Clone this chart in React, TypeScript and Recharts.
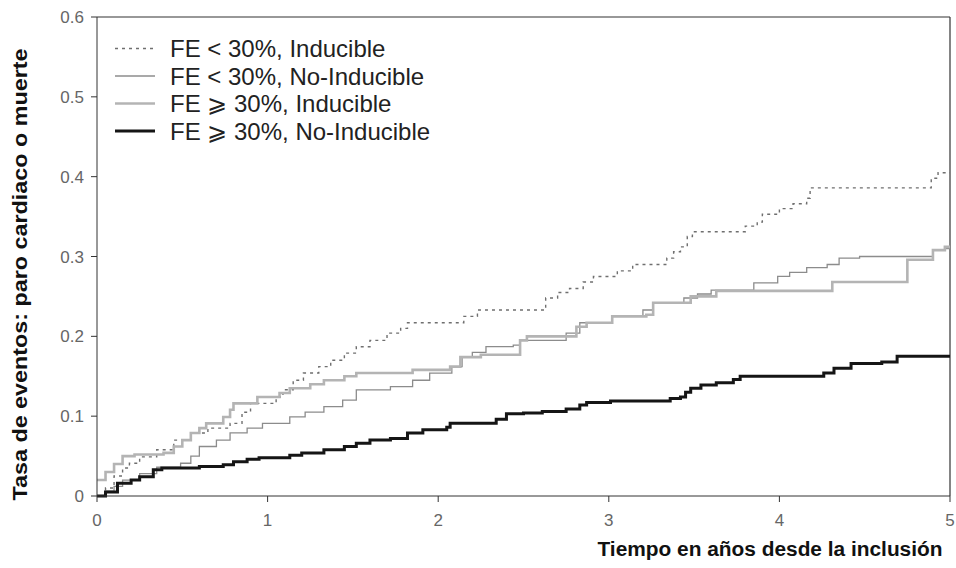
import React from 'react';
import {
    LineChart,
    Line,
    XAxis,
    YAxis,
    ReferenceLine,
    Label,
} from 'recharts';

// tiempo (años) y tasa acumulada
const lowInducibleT = [0, 0.05, 0.1, 0.15, 0.19, 0.25, 0.35, 0.45, 0.55, 0.65, 0.78, 0.85, 0.9, 1.05, 1.09, 1.15, 1.21, 1.3, 1.37, 1.45, 1.52, 1.6, 1.7, 1.78, 1.82, 2.15, 2.23, 2.63, 2.7, 2.77, 2.85, 2.91, 3.05, 3.14, 3.34, 3.38, 3.42, 3.46, 3.49, 3.8, 3.87, 3.9, 4.0, 4.08, 4.16, 4.18, 4.89, 4.93, 5];
const lowInducibleY = [0, 0.01, 0.025, 0.035, 0.041, 0.049, 0.058, 0.07, 0.079, 0.085, 0.091, 0.105, 0.116, 0.124, 0.133, 0.145, 0.154, 0.162, 0.17, 0.179, 0.187, 0.195, 0.204, 0.21, 0.217, 0.225, 0.233, 0.248, 0.255, 0.26, 0.268, 0.275, 0.282, 0.29, 0.298, 0.306, 0.312, 0.325, 0.331, 0.338, 0.343, 0.353, 0.36, 0.366, 0.373, 0.386, 0.398, 0.405, 0.405];

const lowNoInducibleT = [0, 0.05, 0.1, 0.15, 0.25, 0.35, 0.49, 0.55, 0.6, 0.7, 0.78, 0.88, 0.97, 1.13, 1.22, 1.33, 1.44, 1.52, 1.72, 1.85, 1.95, 2.08, 2.14, 2.2, 2.28, 2.44, 2.48, 2.75, 2.83, 3.02, 3.2, 3.26, 3.44, 3.52, 3.6, 3.85, 3.99, 4.06, 4.16, 4.28, 4.35, 4.47, 4.9, 4.97, 5];
const lowNoInducibleY = [0, 0.006, 0.012, 0.02, 0.028, 0.036, 0.041, 0.05, 0.062, 0.07, 0.079, 0.085, 0.091, 0.099, 0.105, 0.112, 0.12, 0.133, 0.137, 0.145, 0.154, 0.162, 0.174, 0.18, 0.187, 0.189, 0.195, 0.204, 0.217, 0.225, 0.233, 0.242, 0.248, 0.253, 0.258, 0.267, 0.275, 0.28, 0.286, 0.29, 0.298, 0.3, 0.308, 0.31, 0.31];

const highInducibleT = [0, 0.05, 0.1, 0.15, 0.22, 0.39, 0.45, 0.5, 0.55, 0.6, 0.64, 0.74, 0.78, 0.8, 0.94, 1.07, 1.13, 1.25, 1.33, 1.45, 1.52, 1.85, 2.07, 2.13, 2.25, 2.48, 2.52, 2.81, 2.87, 3.02, 3.22, 3.26, 3.48, 3.63, 4.31, 4.75, 4.9, 4.97, 5];
const highInducibleY = [0.02, 0.03, 0.04, 0.05, 0.052, 0.054, 0.062, 0.07, 0.079, 0.085, 0.091, 0.099, 0.108, 0.116, 0.124, 0.129, 0.135, 0.14, 0.145, 0.15, 0.154, 0.158, 0.162, 0.174, 0.177, 0.195, 0.2, 0.212, 0.217, 0.225, 0.227, 0.242, 0.25, 0.257, 0.268, 0.296, 0.308, 0.312, 0.312];

const highNoInducibleT = [0, 0.05, 0.12, 0.2, 0.25, 0.33, 0.38, 0.6, 0.74, 0.8, 0.88, 0.95, 1.13, 1.2, 1.33, 1.45, 1.52, 1.6, 1.72, 1.82, 1.91, 2.05, 2.07, 2.34, 2.4, 2.5, 2.61, 2.75, 2.83, 2.87, 3.01, 3.36, 3.42, 3.45, 3.48, 3.54, 3.63, 3.73, 3.77, 4.26, 4.32, 4.42, 4.6, 4.69, 5];
const highNoInducibleY = [0, 0.005, 0.016, 0.02, 0.024, 0.033, 0.035, 0.037, 0.039, 0.043, 0.046, 0.048, 0.051, 0.054, 0.058, 0.062, 0.066, 0.07, 0.072, 0.079, 0.083, 0.086, 0.091, 0.096, 0.103, 0.104, 0.106, 0.109, 0.114, 0.117, 0.119, 0.122, 0.124, 0.13, 0.135, 0.139, 0.142, 0.146, 0.15, 0.154, 0.16, 0.166, 0.168, 0.175, 0.175];

const xTicks = [0, 1, 2, 3, 4, 5];
const yTicks = [0, 0.1, 0.2, 0.3, 0.4, 0.5, 0.6];

const toPoints = (t: number[], y: number[]) => t.map((v, i) => ({ t: v, y: y[i] }));

const series = [
    { name: 'FE < 30%, Inducible', data: toPoints(lowInducibleT, lowInducibleY), stroke: '#6f6f6f', width: 1.4, dash: '3 4' },
    { name: 'FE < 30%, No-Inducible', data: toPoints(lowNoInducibleT, lowNoInducibleY), stroke: '#8c8c8c', width: 1.3, dash: undefined },
    { name: 'FE \u2A7E 30%, Inducible', data: toPoints(highInducibleT, highInducibleY), stroke: '#b4b4b4', width: 2.6, dash: undefined },
    { name: 'FE \u2A7E 30%, No-Inducible', data: toPoints(highNoInducibleT, highNoInducibleY), stroke: '#151515', width: 3, dash: undefined },
];

const font = '"Liberation Sans", Arial, sans-serif';

// eslint-disable-next-line @typescript-eslint/no-explicit-any
const XTitle = (props: any) => {
    const { viewBox } = props;
    return (
        <text x={viewBox.x + viewBox.width - 180} y={viewBox.y + 53} textAnchor="middle" dominantBaseline="central"
            fontSize={20} fontWeight="bold" fill="#111" fontFamily={font} textLength={345} lengthAdjust="spacingAndGlyphs">
            Tiempo en años desde la inclusión
        </text>
    );
};

// eslint-disable-next-line @typescript-eslint/no-explicit-any
const YTitle = (props: any) => {
    const { viewBox } = props;
    const cy = viewBox.y + viewBox.height / 2 + 18;
    return (
        <text x={20} y={cy} transform={`rotate(-90 20 ${cy})`} textAnchor="middle" dominantBaseline="central"
            fontSize={20} fontWeight="bold" fill="#111" fontFamily={font} textLength={452} lengthAdjust="spacingAndGlyphs">
            Tasa de eventos: paro cardiaco o muerte
        </text>
    );
};

const LegendBox = () => (
    <svg width={520} height={150} style={{ position: 'absolute', left: 0, top: 0, pointerEvents: 'none' }}>
        {series.map((s, i) => (
            <g key={s.name}>
                <line x1={115} x2={155} y1={48.5 + i * 27.5} y2={48.5 + i * 27.5} stroke={s.stroke} strokeWidth={s.width} strokeDasharray={s.dash} />
                <text x={170} y={48.5 + i * 27.5} dominantBaseline="central" fontSize={24} fill="#222" fontFamily={font}>
                    {s.name}
                </text>
            </g>
        ))}
    </svg>
);

export default function App() {
    return (
        <div style={{ position: 'absolute', left: 0, top: 0, width: 956, height: 568, background: '#fff', fontFamily: font }}>
            <LineChart width={956} height={568} margin={{ top: 17, right: 6, left: 37, bottom: 42 }}>
                <XAxis
                    type="number"
                    dataKey="t"
                    domain={[0, 5]}
                    ticks={xTicks}
                    allowDuplicatedCategory={false}
                    height={30}
                    stroke="#333"
                    tickSize={6}
                    tick={{ fill: '#666', fontSize: 17 }}
                    tickMargin={12}
                >
                    <Label content={<XTitle />} />
                </XAxis>
                <YAxis
                    type="number"
                    domain={[0, 0.6]}
                    ticks={yTicks}
                    width={60}
                    stroke="#333"
                    tickSize={6}
                    tickMargin={7}
                    tick={{ fill: '#666', fontSize: 17 }}
                    tickFormatter={(v: number) => (v === 0 ? '0' : v.toFixed(1))}
                >
                    <Label content={<YTitle />} />
                </YAxis>
                <ReferenceLine y={0.6} stroke="#333" strokeWidth={1.2} />
                <ReferenceLine x={5} stroke="#333" strokeWidth={1.2} />
                {series.map((s) => (
                    <Line
                        key={s.name}
                        data={s.data}
                        dataKey="y"
                        name={s.name}
                        type="stepAfter"
                        stroke={s.stroke}
                        strokeWidth={s.width}
                        strokeDasharray={s.dash}
                        dot={false}
                        activeDot={false}
                        isAnimationActive={false}
                    />
                ))}
            </LineChart>
            <LegendBox />
        </div>
    );
}
